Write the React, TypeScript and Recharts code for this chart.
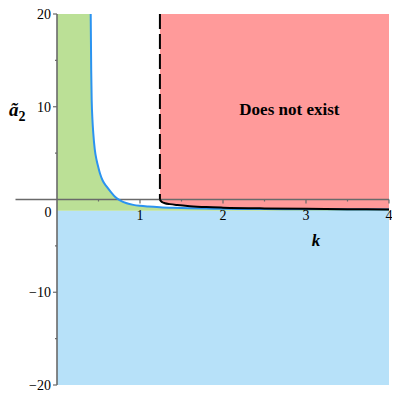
import React from 'react';
import { ComposedChart, Area, Line, XAxis, YAxis, ReferenceArea, ReferenceLine, ReferenceDot } from 'recharts';

// blue boundary curve
const blueK = [0.406, 0.412, 0.418, 0.427, 0.437, 0.455, 0.478, 0.5, 0.518, 0.55, 0.599, 0.65, 0.699, 0.76, 0.84, 0.92, 1.0, 1.1, 1.24, 1.4, 1.6, 1.8, 2.0, 2.5, 3.0, 3.5, 4.0];
const blueA2 = [20, 14, 10.7, 8.6, 7.17, 5.4, 4.2, 3.4, 2.8, 2.05, 1.38, 0.8, 0.3, -0.1, -0.41, -0.58, -0.68, -0.76, -0.84, -0.9, -0.95, -0.98, -1.0, -1.03, -1.05, -1.07, -1.08];

// black boundary of the "does not exist" region
const blackK = [1.24, 1.25, 1.27, 1.3, 1.36, 1.45, 1.6, 1.8, 2.0, 2.5, 3.0, 3.5, 4.0];
const blackA2 = [0, -0.15, -0.3, -0.4, -0.5, -0.6, -0.72, -0.82, -0.88, -0.96, -1.0, -1.04, -1.07];

const floorA2 = -1.2;
const topA2 = 20;
const bottomA2 = -20;
const asymptoteK = 1.24;
const kRange = [0, 4];
const axisStartK = -0.5;

const yTicks = [-20, -15, -10, -5, 0, 5, 10, 15, 20];
const xTicks = [0.5, 1, 1.5, 2, 2.5, 3, 3.5, 4];

const GREEN = '#bbe096';
const RED = '#ff9a9a';
const BLUE_FILL = '#b7e1f9';
const CURVE = '#2b93f0';
const AXIS = '#6a6a6a';
const FONT = '"Liberation Serif", "Times New Roman", serif';

const greenData = [{ k: kRange[0], band: [floorA2, topA2] }, ...blueK.map((k, i) => ({ k, band: [floorA2, blueA2[i]] }))];
const redData = blackK.map((k, i) => ({ k, band: [blackA2[i], topA2] }));
const blueData = blueK.map((k, i) => ({ k, a2: blueA2[i] }));
const blackData = blackK.map((k, i) => ({ k, a2: blackA2[i] }));

const fmt = (v: number) => (v < 0 ? '\u2212' + Math.abs(v) : String(v));

const YTick = ({ x, y, payload }: any) => {
  const v = payload.value as number;
  const major = v % 10 === 0;
  return (
    <g>
      {v !== 0 && <line x1={x - (major ? 4 : 2)} x2={x} y1={y} y2={y} stroke={AXIS} strokeWidth={1.2} />}
      {major && v !== 0 && (
        <text x={x - 6} y={y} dy="0.35em" textAnchor="end" fontFamily={FONT} fontSize={14} fill="#000">{fmt(v)}</text>
      )}
      {v === 0 && (
        <text x={x - 9} y={y + 13} dy="0.35em" textAnchor="middle" fontFamily={FONT} fontSize={14} fill="#000">0</text>
      )}
    </g>
  );
};

const XTick = (value: number) => (props: any) => {
  const { cx, cy } = props;
  const major = Number.isInteger(value);
  return (
    <g>
      <line x1={cx} x2={cx} y1={cy} y2={cy + (major ? 4 : 2)} stroke={AXIS} strokeWidth={1.2} />
      {major && (
        <text x={cx} y={cy + 16} dy="0.35em" textAnchor="middle" fontFamily={FONT} fontSize={14} fill="#000">{value}</text>
      )}
    </g>
  );
};

const TextMark = (text: string, size: number, italic: boolean) => (props: any) => (
  <text x={props.cx} y={props.cy} dy="0.35em" textAnchor="middle" fontFamily={FONT} fontSize={size}
    fontWeight="bold" fontStyle={italic ? 'italic' : 'normal'} fill="#000">{text}</text>
);

export default function App() {
  return (
    <div style={{ position: 'relative', margin: -8, width: 400, height: 400, background: '#fff' }}>
      <ComposedChart width={400} height={400} margin={{ top: 14, right: 11, bottom: 15, left: 0 }}>
        <XAxis type="number" dataKey="k" domain={kRange} hide allowDataOverflow />
        <YAxis type="number" domain={[bottomA2, topA2]} ticks={yTicks} width={57} tickSize={0} tickMargin={0}
          tickLine={false} tick={<YTick />} axisLine={{ stroke: AXIS, strokeWidth: 1.6 }} allowDataOverflow interval={0} />
        <ReferenceArea x1={kRange[0]} x2={kRange[1]} y1={bottomA2} y2={floorA2} fill={BLUE_FILL} fillOpacity={1} stroke="none" />
        <Area data={greenData} dataKey="band" type="monotone" fill={GREEN} fillOpacity={1} stroke="none" isAnimationActive={false} />
        <Area data={redData} dataKey="band" type="monotone" fill={RED} fillOpacity={1} stroke="none" isAnimationActive={false} />
        <ReferenceLine segment={[{ x: axisStartK, y: 0 }, { x: kRange[1], y: 0 }]} ifOverflow="visible" stroke={AXIS} strokeWidth={1.6} />
        {xTicks.map((t) => (
          <ReferenceDot key={t} x={t} y={0} r={0} ifOverflow="visible" shape={XTick(t)} />
        ))}
        <Line data={blueData} dataKey="a2" type="monotone" stroke={CURVE} strokeWidth={2} dot={false} isAnimationActive={false} />
        <Line data={blackData} dataKey="a2" type="monotone" stroke="#000" strokeWidth={2} dot={false} isAnimationActive={false} />
        <ReferenceLine segment={[{ x: asymptoteK, y: topA2 }, { x: asymptoteK, y: 0 }]} stroke="#000" strokeWidth={2} strokeDasharray="15 5" />
        <ReferenceDot x={2.8} y={9.8} r={0} shape={TextMark('Does not exist', 17, false)} />
        <ReferenceDot x={3.12} y={-4.4} r={0} shape={TextMark('k', 17, true)} />
      </ComposedChart>
      <div style={{ position: 'absolute', left: 9, top: 100, fontFamily: FONT, fontWeight: 'bold', fontStyle: 'italic', fontSize: 19, lineHeight: 1, whiteSpace: 'nowrap' }}>
        ã<span style={{ fontSize: 14, position: 'relative', top: 5, fontStyle: 'normal' }}>2</span>
      </div>
    </div>
  );
}
